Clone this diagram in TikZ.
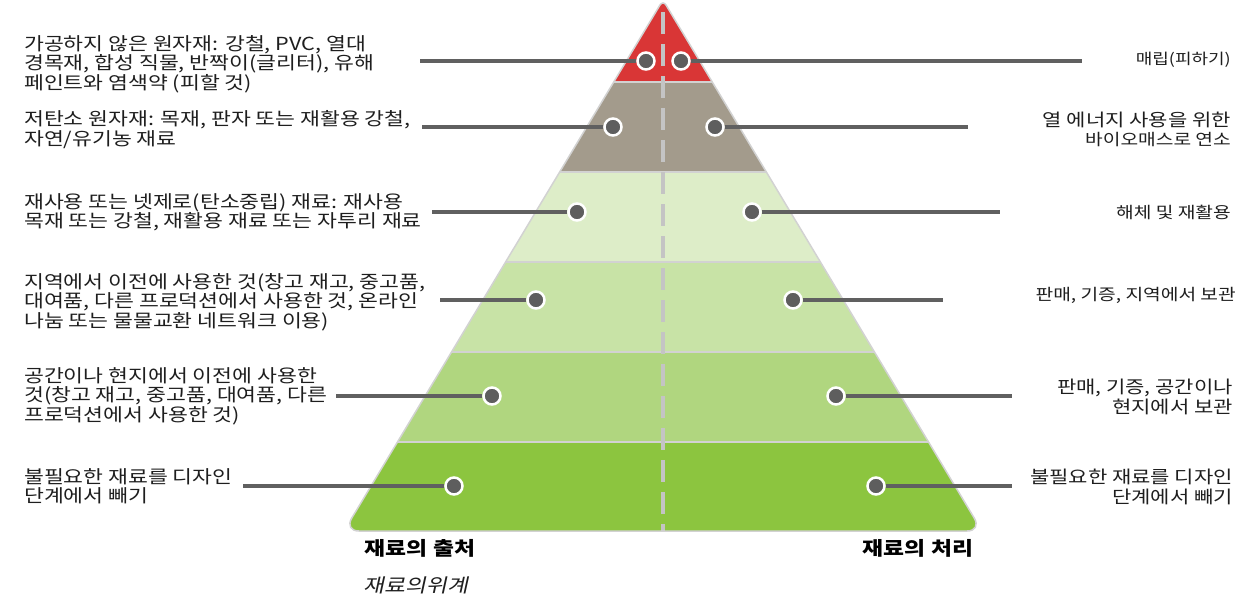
\documentclass[tikz,border=0pt]{standalone}
\usepackage{fontspec}
\setmainfont[FakeStretch=1.2]{Noto Sans CJK KR}
\newfontfamily\krslant[FakeStretch=1.2,FakeSlant=0.22]{Noto Sans CJK KR}
\definecolor{bandA}{HTML}{D93636}
\definecolor{bandB}{HTML}{A39B8C}
\definecolor{bandC}{HTML}{DDEDC8}
\definecolor{bandD}{HTML}{C8E3A6}
\definecolor{bandE}{HTML}{B0D67F}
\definecolor{bandF}{HTML}{8CC53F}
\definecolor{dotgray}{HTML}{5E5E5E}
\definecolor{linkgray}{HTML}{606060}
\definecolor{rimgray}{HTML}{D2D2D2}
\definecolor{midgray}{HTML}{C4C4C4}
\definecolor{txt}{HTML}{1E1E1E}
\begin{document}
\begin{tikzpicture}[x=1pt,y=-1pt,
    dot/.style={circle,fill=dotgray,draw=white,line width=2.5pt,minimum size=17pt,inner sep=0pt},
    link/.style={draw=linkgray,line width=3.5pt},
    sepline/.style={draw=rimgray,line width=2pt},
    ltext/.style={anchor=west,align=left,inner sep=0pt,text=txt,font=\fontsize{18}{19.5}\selectfont},
    rtext/.style={anchor=east,align=right,inner sep=0pt,text=txt,font=\fontsize{16}{19}\selectfont},
    rbig/.style={rtext,font=\fontsize{17.5}{20}\selectfont}]
    \useasboundingbox (0,0) rectangle (1236,603);
    %% pyramid bands
    \begin{scope}
        \clip (663,531) [rounded corners=15pt] -- (344,531) [rounded corners=6pt] -- (663,0) [rounded corners=15pt] -- (982,531) -- cycle;
        \fill[bandA] (300,0) rectangle (1000,82);
        \fill[bandB] (300,82) rectangle (1000,172);
        \fill[bandC] (300,172) rectangle (1000,262);
        \fill[bandD] (300,262) rectangle (1000,352);
        \fill[bandE] (300,352) rectangle (1000,442);
        \fill[bandF] (300,442) rectangle (1000,540);
        \foreach \y in {82,172,262,352,442}
            \draw[sepline] (300,\y) -- (1000,\y);
        \draw[midgray,line width=4pt,dash pattern=on 22pt off 10pt] (663,12) -- (663,531);
    \end{scope}
    \draw[rimgray,line width=1.5pt] (663,531) [rounded corners=15pt] -- (344,531) [rounded corners=6pt] -- (663,0) [rounded corners=15pt] -- (982,531) -- cycle;
    %% left side
    \node[ltext] (lt1) at (24,64) {가공하지 않은 원자재: 강철, PVC, 열대\\경목재, 합성 직물, 반짝이(글리터), 유해\\페인트와 염색약 (피할 것)};
    \node[ltext] (lt2) at (24,129.5) {저탄소 원자재: 목재, 판자 또는 재활용 강철,\\자연/유기농 재료};
    \node[ltext] (lt3) at (24,212.5) {재사용 또는 넷제로(탄소중립) 재료: 재사용\\목재 또는 강철, 재활용 재료 또는 자투리 재료};
    \node[ltext] (lt4) at (24,302) {지역에서 이전에 사용한 것(창고 재고, 중고품,\\대여품, 다른 프로덕션에서 사용한 것, 온라인\\나눔 또는 물물교환 네트워크 이용)};
    \node[ltext] (lt5) at (24,396) {공간이나 현지에서 이전에 사용한\\것(창고 재고, 중고품, 대여품, 다른\\프로덕션에서 사용한 것)};
    \node[ltext] (lt6) at (24,486.5) {불필요한 재료를 디자인\\단계에서 빼기};
    \node[dot] (ld1) at (646,61) {};
    \node[dot] (ld2) at (613,127) {};
    \node[dot] (ld3) at (577,212) {};
    \node[dot] (ld4) at (536,300) {};
    \node[dot] (ld5) at (492,396) {};
    \node[dot] (ld6) at (454,486) {};
    \coordinate (le1) at (420,61);
    \coordinate (le2) at (422,127);
    \coordinate (le3) at (432,212);
    \coordinate (le4) at (440,300);
    \coordinate (le5) at (336,396);
    \coordinate (le6) at (243,486);
    \draw[link] (le1) -- (ld1);
    \draw[link] (le2) -- (ld2);
    \draw[link] (le3) -- (ld3);
    \draw[link] (le4) -- (ld4);
    \draw[link] (le5) -- (ld5);
    \draw[link] (le6) -- (ld6);
    %% right side
    \node[rtext,font=\fontsize{15}{19}\selectfont] (rt1) at (1231,60) {매립(피하기)};
    \node[rtext] (rt2) at (1231,129) {{\fontsize{17.5}{19}\selectfont 열 에너지 사용을 위한}\\바이오매스로 연소};
    \node[rtext] (rt3) at (1231,212) {해체 및 재활용};
    \node[rtext] (rt4) at (1236,295) {판매, 기증, 지역에서 보관};
    \node[rbig] (rt5) at (1233,397) {판매, 기증, 공간이나\\현지에서 보관};
    \node[rbig] (rt6) at (1233,487) {불필요한 재료를 디자인\\단계에서 빼기};
    \node[dot] (rd1) at (681,61) {};
    \node[dot] (rd2) at (715,127) {};
    \node[dot] (rd3) at (752,212) {};
    \node[dot] (rd4) at (793,300) {};
    \node[dot] (rd5) at (836,396) {};
    \node[dot] (rd6) at (876,486) {};
    \coordinate (re1) at (1082,61);
    \coordinate (re2) at (968,127);
    \coordinate (re3) at (1000,212);
    \coordinate (re4) at (943,300);
    \coordinate (re5) at (1012,396);
    \coordinate (re6) at (1012,486);
    \draw[link] (rd1) -- (re1);
    \draw[link] (rd2) -- (re2);
    \draw[link] (rd3) -- (re3);
    \draw[link] (rd4) -- (re4);
    \draw[link] (rd5) -- (re5);
    \draw[link] (rd6) -- (re6);
    %% captions
    \node[font=\fontsize{19}{20}\selectfont\bfseries] (src) at (420,548) {재료의 출처};
    \node[font=\fontsize{19}{20}\selectfont\bfseries] (dsp) at (918,548) {재료의 처리};
    \node[anchor=west,inner sep=0pt,text=txt,font=\krslant\fontsize{19}{20}\selectfont] (ttl) at (363,585) {재료의위계};
\end{tikzpicture}
\end{document}
